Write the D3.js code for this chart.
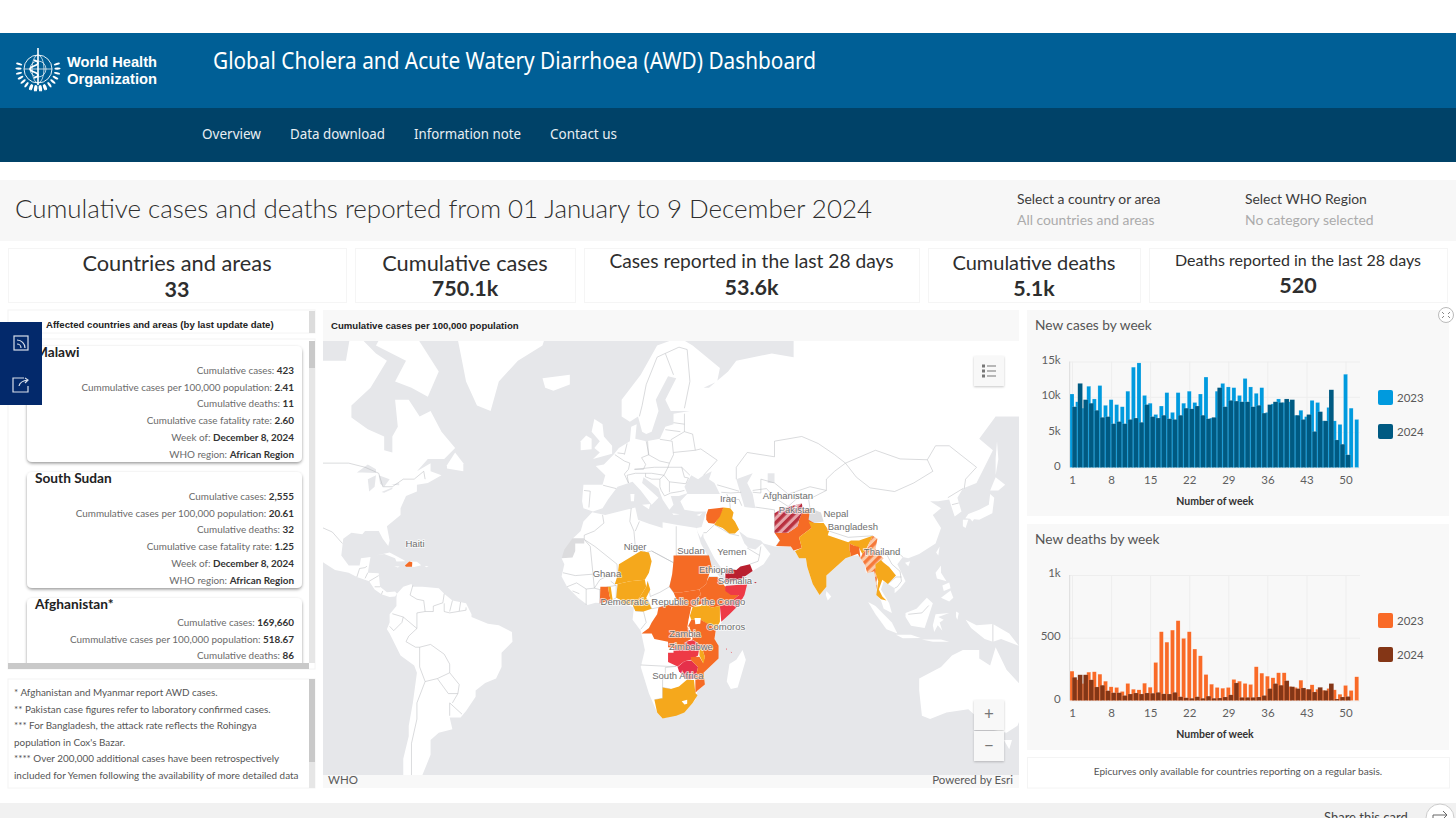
<!DOCTYPE html>
<html>
<head>
<meta charset="utf-8">
<script src="https://cdnjs.cloudflare.com/ajax/libs/d3/7.8.5/d3.min.js"></script>
<style>
  html, body { margin: 0; padding: 0; background: #fff; overflow: hidden; }
  svg { display: block; }
  text { font-family: Lato, "Open Sans", sans-serif; }
  .axis path { display: none; }
  .axis line { stroke: #eeeeee; }
  .axis text { font-size: 11.5px; fill: #5f5f5f; font-family: Lato, sans-serif; }
</style>
</head>
<body>
<svg id="page" width="1456" height="818"></svg>
<script>
// ---- chart data ----
const weeks = d3.range(1, 53);
const weekTicks = [1, 8, 15, 22, 29, 36, 43, 50];
const caseTicks = [0, 5000, 10000, 15000];
const caseTickLabels = ['0', '5k', '10k', '15k'];
const deathTicks = [0, 500, 1000];
const deathTickLabels = ['0', '500', '1k'];

const cases2023 = [10400, 9300, 8400, 11500, 9700, 11600, 8800, 9600, 8900, 8600, 10800, 14200, 14800, 10200, 9100, 7500, 8700, 10600, 7800, 10600, 9100, 10800, 9200, 10400, 12800, 7000, 10800, 11900, 11400, 11300, 10200, 12600, 11400, 10500, 11300, 7800, 9000, 9700, 9200, 9300, 7400, 8100, 7200, 9500, 9200, 6600, 8500, 6600, 6100, 13200, 8400, 6800];
const cases2024 = [8600, 11900, 9600, 9100, 8100, 7100, 7200, 6200, 6500, 6200, 6800, 7000, 6400, 8900, 7200, 7000, 7400, 6900, 6800, 7400, 8400, 8300, 8700, 7400, 6900, 7100, 11300, 8600, 9500, 9400, 9300, 9300, 8600, 8800, 7700, 8900, 9300, 9200, 9700, 9600, 7400, 6800, 7500, 5100, 7900, 6600, 11000, 3900, 3300, 1800];
const deaths2023 = [234, 165, 135, 226, 229, 210, 154, 109, 104, 72, 136, 90, 85, 138, 106, 303, 548, 465, 561, 636, 495, 548, 410, 356, 207, 130, 104, 98, 104, 168, 154, 136, 128, 269, 218, 194, 181, 221, 221, 112, 104, 162, 90, 125, 90, 82, 96, 85, 50, 120, 80, 189];
const deaths2024 = [185, 205, 205, 165, 108, 122, 78, 62, 62, 40, 52, 60, 52, 60, 58, 65, 53, 52, 65, 30, 22, 18, 30, 18, 35, 18, 20, 28, 45, 140, 25, 25, 25, 28, 40, 95, 135, 122, 158, 110, 95, 100, 90, 68, 105, 80, 135, 12, 28, 32];

// ---- dashboard text ----
const navItems = ['Overview', 'Data download', 'Information note', 'Contact us'];
const statLabels = ['Countries and areas', 'Cumulative cases', 'Cases reported in the last 28 days', 'Cumulative deaths', 'Deaths reported in the last 28 days'];
const statValues = ['33', '750.1k', '53.6k', '5.1k', '520'];
const rowLabels = ['Cumulative cases', 'Cummulative cases per 100,000 population', 'Cumulative deaths', 'Cumulative case fatality rate', 'Week of', 'WHO region'];
const cardNames = ['Malawi', 'South Sudan', 'Afghanistan*'];
const cardValues = [
  ['423', '2.41', '11', '2.60', 'December 8, 2024', 'African Region'],
  ['2,555', '20.61', '32', '1.25', 'December 8, 2024', 'African Region'],
  ['169,660', '518.67', '86']
];
const footnotes = ['* Afghanistan and Myanmar report AWD cases.', '** Pakistan case figures refer to laboratory confirmed cases.', '*** For Bangladesh, the attack rate reflects the Rohingya', "population in Cox's Bazar.", '**** Over 200,000 additional cases have been retrospectively', 'included for Yemen following the availability of more detailed data'];

// ---- map data, rough lon/lat outlines ----
const landAreas = [
  [[-125,70],[-110,68],[-96,68],[-94,72],[-85,69],[-81,68],[-87,64],[-94,61],[-94,58.8],[-88,56.5],[-82,55],[-82,52],[-79,51.5],[-79,55],[-77,57],[-78,62],[-73,62],[-69,59],[-65,60],[-61,56],[-56,52.5],[-60,50],[-66,50],[-70,47],[-65,49],[-65,47],[-61,46],[-66,44],[-70,43.5],[-70,41.7],[-74,40.5],[-76,37],[-76,35],[-81,31.5],[-80,27],[-80.5,25.2],[-82.5,27.5],[-84,30],[-89,30],[-90,29],[-94,29.5],[-97,27.5],[-97.7,22],[-95,18.5],[-91,18.5],[-90.5,21],[-87,21.5],[-88,16],[-84,15.8],[-83.5,11],[-81,9],[-78,9.3],[-77.3,8.5],[-78,7.5],[-80,7.3],[-83,8.3],[-85.5,10],[-87.5,13],[-92,14.5],[-95,16],[-100,17],[-105,20],[-105.5,22],[-109,26],[-112,30],[-125,40]],
  [[-73,78],[-55,82],[-30,83],[-20,80],[-20,74],[-24,70],[-33,68],[-40,65],[-43,60],[-48,61],[-52,65],[-54,69],[-58,75],[-68,76]],
  [[-80,73],[-70,71],[-62,66.5],[-66,62.5],[-72,64],[-78,65],[-74,68],[-85,70]],
  [[-117,70],[-105,69],[-105,73],[-117,73]],
  [[-100,74],[-80,74],[-85,77],[-100,77]],
  [[-59,47.7],[-53,47],[-53,49],[-56,51.5],[-59,48.5]],
  [[-85,22],[-80,23],[-75,20.5],[-74.2,20],[-77.5,19.9],[-78,21],[-82,22.5]],
  [[-74.4,18.5],[-72.8,19.9],[-70,19.8],[-68.4,18.6],[-71,18],[-72,18.1]],
  [[-78.3,18.3],[-76.3,18.2],[-77,17.8]],
  [[-67.2,18.4],[-65.7,18.3],[-66.5,17.9]],
  [[-77.3,8.5],[-75,11],[-72,12],[-71.5,11],[-68,11],[-62,10.5],[-60,8.5],[-57,6],[-52,5],[-50,1],[-50,0],[-44,-2.5],[-40,-3],[-35.2,-5.5],[-35,-9],[-39,-13],[-39,-18],[-41,-22],[-45,-23.5],[-48.5,-26],[-48.5,-28],[-52,-32.5],[-54,-34.5],[-58,-34.5],[-57,-38],[-62,-39],[-65,-41],[-65,-45],[-68,-50],[-69,-52],[-75,-52],[-75,-46],[-73,-40],[-73,-37],[-71.5,-30],[-70,-20],[-71,-17.5],[-76,-14],[-80,-6],[-81,-4.5],[-80,-2],[-80,1],[-77.5,4],[-77.5,7]],
  [[-9,37],[-9.5,39],[-9,43.5],[-2,43.5],[-1,46],[-4.5,48.3],[-1.5,48.7],[2,51],[4,52.5],[8,54],[8.5,57],[10.5,57.5],[10,54.5],[14,54],[19,54.5],[21,57],[24,57.5],[24,59.5],[30,60],[23,60],[21,62],[25,65.5],[22,65.8],[17.5,62],[18.5,60],[16,56],[14,55.5],[12.5,56],[11,59],[8,58],[5,59],[5,62],[12,66],[18,70],[26,71],[31,70],[41,67],[40,65],[35,64],[37,64],[44,66.5],[47,68],[60,69],[68,68.5],[68,73],[75,72.5],[80,73],[100,76],[112,74],[130,72],[150,72],[165,70],[165,60],[155,59],[142,59],[136,54.5],[141,52],[135,44],[130,42.5],[128,40],[129.5,36],[127,34.5],[126,37],[125,39.5],[121,39],[118,39],[122,37],[119,35],[122,31],[120,26],[114,22.5],[110,21],[108,21.5],[106,19],[109,13],[107,10.5],[105,8.7],[105,10.5],[101,13],[100,10],[103,5],[104,1.5],[101,3],[100,6],[98.5,8],[98.5,14],[97,17],[94.5,16],[94,19],[92,22],[89,22],[87,21],[80,15],[80,11],[77.5,8],[75,12],[73,18],[72.5,21],[70,21],[68.5,23.5],[67,25],[61,25],[57,26],[56,27],[51,28],[48,30],[50,26],[51.5,24.5],[54,24],[56.5,26],[59.5,22.5],[57,19],[52,16],[45,12.8],[43.3,13],[42,17],[39,21],[35,28],[34.9,29.5],[34,27.8],[32.7,29.9],[32.5,31],[34.3,31.3],[36,36],[32,36],[28,36.5],[26.5,39],[29,41],[41,41],[39,44],[37,45],[38,47],[35,46],[33,45],[30.5,46],[28,43],[29,41.2],[26,40.5],[23,40.5],[24,38],[22.5,36.5],[20,39.5],[18.5,42.5],[13,45.5],[12.5,44],[18.5,40],[16,38],[12,42],[9,44.3],[3.5,43],[0,39.5],[-2,37],[-5.5,36]],
  [[-5.8,35.8],[-1,35],[10,37.2],[11,33.5],[15,32.3],[20,31],[20,32.8],[25,32],[32.5,31],[32.7,29.9],[34,26],[37,21],[38,18],[43,12],[43.5,11],[51,12],[49,7],[42,-1.5],[39.5,-5],[39,-8],[40.5,-15],[35,-20],[35.5,-24],[32.8,-26],[32,-29],[28,-33],[20,-34.8],[18,-33],[15,-27],[12,-18],[13.5,-12],[12,-5],[9,-1],[9.5,3.5],[7,4.5],[4.5,6.2],[-2,5],[-4.5,5.2],[-7.5,4.4],[-11,7],[-15,11],[-17,14.7],[-16,19],[-17,21],[-13,27.5],[-10,30],[-9,33]],
  [[49.3,-12],[50.5,-15.5],[47.5,-25],[45,-25.5],[43.5,-23],[44.5,-17],[47,-15.5]],
  [[-5.5,50],[1.5,51.2],[1.5,53],[-1.5,55],[-2,57.5],[-5,58.5],[-6,56],[-3,54],[-5,52.5],[-3,51.5]],
  [[-10,52],[-6,52.2],[-6,54.5],[-8,55.2],[-10,54]],
  [[-24,65.5],[-14,66],[-14,64.5],[-20,63.5],[-23,64]],
  [[52,71],[56,71],[68,76.5],[60,76]],
  [[12.5,38],[15.5,38.2],[15,36.7]],
  [[8.2,41],[9.7,41],[9.5,39],[8.4,39]],
  [[23.5,35.5],[26.3,35.2],[24,35]],
  [[32.4,35],[34.5,35.6],[33.5,34.7]],
  [[130.9,34],[136,33.5],[140.8,35.5],[141.5,40],[140,41],[139.5,38],[136,36.5],[132,35.3]],
  [[140,42],[142,45.5],[145.5,43.5],[143,42]],
  [[130,33.5],[132,33.5],[131,31],[130,31.5]],
  [[132.5,34],[134.5,34.2],[133.5,33]],
  [[142,46],[143,50],[142.5,54],[142,50]],
  [[120.2,23],[121.5,25],[121,22]],
  [[108.8,19.5],[110.7,20],[110,18.3]],
  [[120,16],[122,18.5],[122,16],[124,13],[120.5,14]],
  [[122,7],[125.5,9.7],[126.5,7],[125,5.7]],
  [[122.5,11.5],[125,12.5],[125.5,10.5],[123,9.5]],
  [[109,1.5],[113,3],[116.8,7],[119,5],[117.7,1],[116,-4],[111,-3.2],[109,0]],
  [[95.3,5.5],[98,4],[104,-2],[106,-6],[102,-4.5],[98,1]],
  [[105.5,-6.5],[111,-6.5],[114.5,-7.7],[108,-7.8]],
  [[115,-8.2],[122,-8.2],[125,-9],[119,-9]],
  [[119.5,-5.5],[119,-3],[120,1],[125,1.5],[121,0],[123,-1],[121.5,-2],[122.5,-5],[120.8,-3]],
  [[127.5,2],[128.5,1.5],[128,-1],[127.5,0]],
  [[131,-1],[135,-3],[141,-2.6],[147,-6],[150.5,-10.5],[144,-8],[141,-9],[138,-8],[133,-4]],
  [[80,9.5],[81.8,7.5],[80.5,6],[79.8,8]],
  [[114,-22],[122,-18],[126,-14],[130,-12],[136,-12],[136,-15],[140,-17.5],[142,-11],[146,-19],[153,-26],[153,-31],[150,-37],[146,-39],[140,-38],[136,-35],[132,-32],[124,-33],[118,-35],[115,-34],[114,-26]],
  [[145,-41],[148,-41],[147,-43.5]]
];
const waterAreas = [
  [[-92,46.7],[-88,48.7],[-85,47.5],[-85,46.6],[-90,46.7]],
  [[-87.5,41.7],[-88,45],[-85,46],[-85.5,43]],
  [[-84,46],[-80,45],[-82,43],[-83.5,43.8]],
  [[-83,41.6],[-79,42.8],[-79,42.4],[-82,41.4]],
  [[-79.5,43.5],[-76.5,44],[-76.5,43.4]],
  [[47,45],[53,46.5],[51,44],[53,41],[54,37],[50,37.3],[49,40]],
  [[58.5,46.5],[61,46.5],[61,44],[58.5,44]]
];
const borders = [
  [[-125,49],[-95,49],[-89,48],[-84,46.5],[-82.5,43],[-79,43],[-75,45],[-71,45],[-67.5,47],[-67,45]],
  [[-117,32.5],[-106.5,31.8],[-101,29.7],[-97.3,26]],
  [[-92,14.5],[-91,17.5],[-89,17.8],[-88.3,18.3]],
  [[-89,14],[-88,16]],[[-87.5,13],[-84,15]],[[-85.5,11],[-83.5,11]],[[-83,8.3],[-82.5,9.5]],
  [[-71.5,11.5],[-72.5,8],[-70,6.5],[-67.5,6],[-67,2],[-64,2],[-64,4],[-60.5,5.2],[-60,8.5]],
  [[-57,6],[-58,2]],[[-54,5.5],[-54.5,2.2]],[[-52,3.5],[-52,2.5],[-58,1.5],[-60,2],[-60,5]],
  [[-67,2],[-70,1.5],[-70,-4.2],[-73,-7],[-74,-9],[-70.5,-11],[-69,-11],[-65,-10],[-60,-13.5],[-58,-17],[-58,-20],[-62.5,-22],[-67,-23],[-69,-18],[-69,-11]],
  [[-79,1.2],[-75,0],[-75.5,-2],[-78.5,-5],[-80,-3.4]],[[-75,0],[-70,-4.2]],
  [[-58,-20],[-54.5,-24],[-55,-27],[-58.5,-27],[-62.5,-22]],
  [[-67,-23],[-70,-30],[-70,-35],[-72,-42],[-72,-50],[-69,-52]],
  [[-58,-34],[-58,-30],[-53.5,-33.5]],[[-55,-27],[-57,-30]],
  [[-2,35],[-1.5,32.5],[-5,30],[-8.7,28.7],[-8.7,27.3],[-4.8,25],[3.3,19],[3.5,15],[0,15],[-3,13.5],[-5,10.5],[-8,10.2],[-11.5,12.4],[-15,11]],
  [[-8.7,27.3],[-6.5,25],[-5.5,15.5],[-12,15],[-16.5,16]],[[-5.5,15.5],[-5,10.5]],
  [[-13,9.5],[-10.5,8.5]],[[-8,10.2],[-8,4.5]],[[-5,10.5],[-3,10],[-3,5]],[[-3,10],[0,11],[3,11.5],[1,13]],
  [[8.5,37],[8,33],[9.5,30],[10,25],[12,23.5]],[[11.5,33],[10,30]],[[10,25],[14,23],[16,23.5],[24,19.5],[25,22],[25,31.5]],[[25,22],[37,22]],
  [[16,23.5],[24,19.5],[24,15.5],[22.5,11],[19,9],[15.5,7.5],[14.5,13]],
  [[22.5,11],[27,5],[22,4.5],[18.5,3.5],[16,3],[14.5,6.5]],
  [[10,2.2],[13,2],[14,-2],[12,-4.5]],
  [[12,-17.3],[22,-17.8],[25,-17.8],[21,-18.2],[21,-22],[20,-22],[20,-28.5],[17,-29]],[[20,-25],[23,-25.5]],
  [[36.5,14.5],[40,14.5],[43,12.5]],[[1.5,6.2],[3,7]],[[3,11.5],[3,7]],
  [[-1.8,43.4],[3,42.5]],[[-7,37.2],[-6.5,41.8],[-8.8,42]],
  [[2.5,51],[6,49.5],[8,49],[7.5,47.5],[6,46.3],[7.5,44]],
  [[14,54],[15,51],[12.3,50.3],[13.8,48.7],[13,47.5],[9.7,47.5]],[[6,51],[7,53.5]],[[3.5,51.4],[6,51.2]],
  [[14.5,54],[14.8,51],[19,49.5],[22.5,49],[24,51],[23.5,54],[19,54.4]],
  [[24,57.8],[28,57.5]],[[21,56.4],[26.5,56]],[[23,54.3],[28,56]],[[28,59.5],[28,56],[31,55.5],[32,52],[24,51.5]],
  [[22.5,49],[22,48],[27,48],[30,46]],[[35,46],[40,49.7],[34,52.3],[32,52]],
  [[22,48],[20.5,46],[22.5,44.3],[28.5,43.8],[29.5,45.3],[28,45.5],[27,48]],
  [[9.7,47.5],[17,48],[19,48],[22,48]],[[13.8,46.5],[16,46.5],[20.5,46]],
  [[7.5,44],[7,46],[10,46.5],[13.8,46.5],[13.7,45.6],[16,45],[19,45],[20.5,46]],
  [[19,45],[19,43],[19.5,42],[20.7,40.5],[23,41.3],[26.3,41.7],[28,42]],[[22.5,44.3],[22.5,41.5]],
  [[11.5,59],[12.5,61],[14,64.5],[18,68.5],[21,69],[26,69.8],[29,69.5],[30,65],[28,60.5]],[[24,66],[21,69]],
  [[40,43.5],[48,41.8]],[[41.5,41.5],[45,41.3],[48.8,41.5]],
  [[43.5,41],[44.5,39.5],[44.8,37]],[[44.5,39.5],[48,39.5],[49,37.7]],[[54,37.3],[61,36.5],[61,30],[63,27],[61.6,25.2]],
  [[53,42],[58,42.5],[62,39.5],[66,37.5]],
  [[53,41.5],[56,41.3],[56,45],[61,44],[66,41],[70,42],[74,43],[80,42],[80,45],[83,47],[87,49]],
  [[47,45],[47,48],[51,51.5],[61,50.5],[61,54],[71,55],[77,53.5],[83,51],[87,49]],
  [[66,37.5],[71,41],[74,40]],
  [[87,49],[98,52],[107,50],[117,49.8],[119,47],[112,44],[105,41.7],[96,42.7],[91,45.5],[87,49]],
  [[117,49.8],[120,53],[125,53],[135,48],[131,45],[130.5,42.5]],
  [[124.5,40],[130,42.5]],[[126,38],[128.5,38.5]],
  [[74,37],[73.5,39.5],[80,42]],[[81,30],[88,28],[97,28.5]],
  [[98,24],[100,21.8],[102,22.5],[106,23],[108,21.5]],
  [[102,22.5],[104,19],[107,16.5],[107.5,13],[106,11],[105,10.5]],[[102.5,12],[105.5,14.5],[107.5,14.5]],
  [[36,29.5],[39,32],[44.5,29.2],[48,28.5]],[[51,24.5],[55.5,22],[55,20],[52,19]],[[56,25],[55.5,22]],[[35,29.5],[36,29.5]],
  [[141,-2.6],[141,-9]],[[110,1],[115,1.5],[117.5,4.2]]
];

const colorLow = '#f5a81c', colorMid = '#f56b25', colorHigh = '#ee3a46', colorTop = '#b9202f', colorNoData = '#dcdcde';
const countries = [
  { name: 'Iraq', fill: colorLow, coords: [[39,32],[42.3,37.2],[44.8,37],[46,35.7],[45.5,34],[46.5,33],[48,30.5],[46.5,29.2],[44.5,29.2],[42,31]] },
  { name: 'Syria', fill: colorMid, coords: [[36,35],[36.7,36.7],[42.3,37.2],[41,34.5],[39,32.3],[36.8,32.5],[36,33.5]] },
  { name: 'Yemen', fill: colorTop, coords: [[43,12.8],[43,16.5],[44,17.4],[47,17],[48.5,18.2],[52,19],[53,16.6],[49,14],[45,12.8]] },
  { name: 'Socotra', fill: colorTop, coords: [[53.5,12.7],[54.5,12.6],[54,12.3]] },
  { name: 'Pakistan', fill: colorMid, coords: [[61,29.5],[66,29.5],[69.5,31.5],[70,33.5],[71.5,36.3],[74,37],[77.5,35.5],[75.5,32.5],[74.5,31],[70,28],[71,24.5],[68,23.7],[67,25],[61.6,25.2],[63,27]] },
  { name: 'Afghanistan', fill: 'url(#hatchDark)', coords: [[61,30],[61,35.5],[64,37],[66,37.3],[71,38.4],[71.5,36.3],[70,33.5],[69.5,31.5],[66,29.5],[61,29.5]] },
  { name: 'Kashmir', fill: colorNoData, coords: [[74,37],[78,35.7],[79,33],[75.5,32.5],[73.5,33.5]] },
  { name: 'India', fill: colorLow, coords: [[73.5,33],[75.5,32.5],[79,32.5],[81,30],[80.5,28.7],[88,26.4],[89,27],[92,27],[97,28.5],[94.5,24],[93.2,22.5],[92,24.5],[90,25.3],[88.5,26],[88.5,24],[89,21.7],[87,21],[80,15],[80,11],[77.5,8],[75,12],[73,18],[72.5,21],[70,21],[68.5,23.5],[71,24.5],[70,28],[74.5,31]] },
  { name: 'Bangladesh', fill: colorMid, coords: [[88.5,26],[90,25.3],[92,24.8],[92.5,21],[91.5,22.6],[89,21.7],[88.5,24]] },
  { name: 'Myanmar', fill: 'url(#hatchOrange)', coords: [[92.5,21],[93.2,22.5],[94.5,24],[97,28.5],[98.7,27.5],[98,24],[100,21.8],[101,21],[98,18],[98.5,14],[98.5,10],[97.5,16.5],[95,15.8],[94,19]] },
  { name: 'Thailand', fill: colorLow, coords: [[98,19],[100,20.4],[101,19.5],[103,18],[105.5,15],[102.5,12],[100.5,13.5],[99.2,10],[100.5,7.5],[102,6],[100,6.5],[98.3,8],[99,13],[98,16]] },
  { name: 'Niger', fill: colorLow, coords: [[2.5,12],[3.5,15],[4,19],[12,23.5],[15,23],[16,20],[15,16],[13.5,13.5],[8,13],[3.5,12]] },
  { name: 'Nigeria', fill: colorLow, coords: [[3,7],[3.5,12],[8,13],[13.5,13.5],[14,11],[11.5,7],[9,4.5],[6,4.5],[4.5,6.3]] },
  { name: 'Cameroon', fill: colorLow, coords: [[9,4.5],[11.5,7],[14,11],[14.5,13],[15.5,10],[14,7],[16,3],[13,2],[10,2.2]] },
  { name: 'Ghana', fill: colorMid, coords: [[-3,5],[-2.8,11],[0,11],[0.5,8],[1,6]] },
  { name: 'Togo', fill: colorLow, coords: [[0,11],[1,11],[1.7,6.2],[1,6],[0.5,8]] },
  { name: 'Democratic Republic of the Congo', fill: colorMid, coords: [[12.3,-6],[15,-4],[16,-2],[18,1],[18.5,3.5],[22,4.5],[27,5],[30.5,3.7],[29.5,-1],[29,-4],[30.5,-8],[28.5,-9],[28.5,-12],[29.5,-13],[27,-11.8],[22,-11],[22,-9],[17,-8],[16,-6]] },
  { name: 'Sudan', fill: colorMid, coords: [[24,22],[37,22],[38,18],[36.5,14],[36,12],[33.5,10],[27,9],[24,9],[22.5,11],[23.5,15.5],[24,20]] },
  { name: 'South Sudan', fill: colorMid, coords: [[24,9],[27,9],[33.5,10],[34,8],[33,7.5],[35,5],[31,3.7],[28,4.5],[25,6.5]] },
  { name: 'Ethiopia', fill: colorMid, coords: [[36,12.5],[37,14.5],[40,14.5],[43,11],[48,8],[44,4.8],[41,4],[38,3.5],[35,5],[33,7.5],[34,8],[33.5,10],[36,12]] },
  { name: 'Somalia', fill: colorHigh, coords: [[43,11.3],[51,12],[50,8],[48,4.5],[44.5,1],[41.5,-1.7],[41,3.9],[44,4.8],[48,8],[45,8],[43,9.5]] },
  { name: 'Kenya', fill: colorLow, coords: [[35,5],[38,3.5],[41,4],[41,-1.7],[39.5,-4.6],[34,-1],[34,4]] },
  { name: 'Uganda', fill: colorLow, coords: [[30.5,-1],[34,-1],[35,2],[34,4],[31,3.7],[30,0.5]] },
  { name: 'Tanzania', fill: colorMid, coords: [[30.5,-1],[34,-1],[37.5,-3],[39.5,-4.7],[39,-8],[40.5,-10.5],[37,-11.7],[34.5,-11.5],[33,-9.5],[30.5,-8],[29,-4]] },
  { name: 'Zambia', fill: colorHigh, coords: [[22,-13],[24,-13],[24,-11],[27.5,-12],[28.5,-9],[31,-8.5],[33,-9.5],[33.5,-11],[33,-14],[30.5,-15.5],[28,-16],[25.5,-17.8],[22,-16.3]] },
  { name: 'Zimbabwe', fill: '#e5304a', coords: [[25.5,-18],[28,-16],[30.5,-15.7],[33,-18],[32,-22],[29,-22.3],[26,-19.5]] },
  { name: 'Mozambique', fill: colorMid, coords: [[34.5,-11.5],[40.5,-10.5],[40.5,-15],[35,-20],[35.5,-24],[32.8,-26],[32,-26.8],[32,-22],[33,-18],[30.5,-15.7],[30.3,-14.5],[33.5,-14.4],[34.8,-16.5],[35.5,-14.5]] },
  { name: 'Malawi', fill: colorLow, coords: [[33,-9.5],[34.5,-11.5],[35.5,-14.5],[35,-16.8],[34.8,-16.5],[33.5,-14],[33.5,-11]] },
  { name: 'South Africa', fill: colorLow, coords: [[17,-29],[20,-28.5],[20,-25],[23,-25.5],[26,-24.7],[29,-22.3],[31.5,-22.5],[32,-26.8],[32.8,-27.5],[31,-30],[28,-33],[25,-34],[20,-34.8],[18,-33]] },
  { name: 'Lesotho', fill: '#ffffff', coords: [[27,-29.5],[29,-29],[29,-30.3],[28,-30.5]] },
  { name: 'Lake Victoria', fill: '#ffffff', coords: [[31.7,-0.4],[34,-0.4],[33.8,-2.5],[32,-2.7]] },
  { name: 'Lake Tanganyika', fill: '#ffffff', coords: [[29.2,-3.5],[29.8,-3.5],[31,-8],[30.4,-8]] },
  { name: 'Western Sahara', fill: colorNoData, coords: [[-13,27.7],[-8.7,27.7],[-8.7,26],[-12,26],[-12,23.5],[-13,21.3],[-17,21],[-16,24]] },
  { name: 'Haiti', fill: colorMid, coords: [[-74.4,18.5],[-72.8,19.9],[-71.7,19.7],[-71.8,18.1],[-74,18.1]] },
  { name: 'Comoros', fill: colorHigh, coords: [[43.2,-11.4],[43.6,-11.6],[43.4,-12]] },
  { name: 'Mayotte', fill: colorHigh, coords: [[45,-12.6],[45.4,-12.8],[45.1,-13.1]] }
];
const mapLabels = [
  ['Haiti', -70.7, 26.1], ['Iraq', 44, 39.9], ['Afghanistan', 65.9, 40.5], ['Pakistan', 69.2, 36.7], ['Nepal', 83.5, 35.3],
  ['Bangladesh', 89.7, 31.6], ['Thailand', 100.4, 23.2], ['Niger', 9.9, 25.1], ['Sudan', 30.4, 23.8], ['Yemen', 45.4, 23.2],
  ['Ghana', -0.4, 15.9], ['Ethiopia', 39.6, 17.3], ['Somalia', 46.5, 13.1], ['Democratic Republic of the Congo', 23.8, 5.8],
  ['Comoros', 43.2, -3.3], ['Zambia', 28.2, -6.2], ['Zimbabwe', 30.4, -10.9], ['South Africa', 25.6, -21.1]
];

const svg = d3.select('#page');

function rect(parent, x, y, w, h, fill, extra) {
  const r = parent.append('rect').attr('x', x).attr('y', y).attr('width', w).attr('height', h).attr('fill', fill);
  if (extra) Object.keys(extra).forEach(k => r.attr(k, extra[k]));
  return r;
}
function label(parent, x, y, str, size, fill, extra) {
  const t = parent.append('text').attr('x', x).attr('y', y).attr('font-size', size).attr('fill', fill).text(str);
  if (extra) Object.keys(extra).forEach(k => t.attr(k, extra[k]));
  return t;
}

// defs
const defs = svg.append('defs');
const shadow = defs.append('filter').attr('id', 'cardShadow').attr('x', '-5%').attr('y', '-5%').attr('width', '110%').attr('height', '115%');
shadow.append('feDropShadow').attr('dx', 0).attr('dy', 1.5).attr('stdDeviation', 1.6).attr('flood-color', '#000').attr('flood-opacity', 0.4);
const softShadow = defs.append('filter').attr('id', 'softShadow').attr('x', '-20%').attr('y', '-20%').attr('width', '140%').attr('height', '140%');
softShadow.append('feDropShadow').attr('dx', 0).attr('dy', 1).attr('stdDeviation', 1.2).attr('flood-color', '#000').attr('flood-opacity', 0.22);
function hatch(id, back, stripe) {
  const p = defs.append('pattern').attr('id', id).attr('patternUnits', 'userSpaceOnUse').attr('width', 6.5).attr('height', 6.5).attr('patternTransform', 'rotate(-45)');
  p.append('rect').attr('width', 6.5).attr('height', 6.5).attr('fill', back);
  p.append('rect').attr('width', 6.5).attr('height', 3.4).attr('fill', stripe);
}
hatch('hatchDark', '#e7a6ac', '#b9303f');
hatch('hatchOrange', '#fbcaa9', '#f6793a');
defs.append('clipPath').attr('id', 'mapClip').append('rect').attr('x', 323).attr('y', 341).attr('width', 696).attr('height', 434);
defs.append('clipPath').attr('id', 'listClip').append('rect').attr('x', 8).attr('y', 339).attr('width', 300).attr('height', 324);

// header
rect(svg, 0, 33, 1456, 75, '#005f96');
rect(svg, 0, 108, 1456, 54, '#004268');
label(svg, 213, 69, 'Global Cholera and Acute Watery Diarrhoea (AWD) Dashboard', 23, '#fff', { textLength: 603, lengthAdjust: 'spacingAndGlyphs', style: 'font-family:"Noto Sans"' });
const navX = [202, 290, 414, 550];
const navW = [59, 95, 107, 67];
navItems.forEach((d, i) => label(svg, navX[i], 139, d, 14.2, '#e8eef3', { textLength: navW[i], lengthAdjust: 'spacingAndGlyphs', style: 'font-family:"Noto Sans"' }));

// WHO logo
const logo = svg.append('g').attr('transform', 'translate(38,69)').attr('fill', 'none').attr('stroke', '#fff');
logo.append('circle').attr('r', 14).attr('stroke-width', 0.9);
logo.append('circle').attr('r', 8).attr('stroke-width', 0.7);
logo.append('ellipse').attr('rx', 6).attr('ry', 14).attr('stroke-width', 0.7);
logo.append('line').attr('x1', -14).attr('x2', 14).attr('stroke-width', 0.7);
logo.append('line').attr('y1', -21).attr('y2', 16).attr('stroke-width', 1.6);
logo.append('path').attr('d', 'M-4 -9 q 8 3 0 6 q -8 3 0 6 q 8 3 0 6').attr('stroke-width', 1.6);
d3.range(-1, 2, 2).forEach(s => {
  d3.range(0.7, 3, 0.24).forEach(a => {
    logo.append('ellipse').attr('rx', 1.1).attr('ry', 3.2)
      .attr('transform', `rotate(${s * a * 180 / Math.PI + s * 35}) translate(0,-19.5)`)
      .attr('fill', '#fff').attr('stroke', 'none');
  });
});
label(svg, 67, 67, 'World Health', 14.8, '#fff', { 'font-weight': 700, textLength: 90, lengthAdjust: 'spacingAndGlyphs', style: 'font-family:"Liberation Sans Narrow","Liberation Sans"' });
label(svg, 67, 84, 'Organization', 14.8, '#fff', { 'font-weight': 700, textLength: 90, lengthAdjust: 'spacingAndGlyphs', style: 'font-family:"Liberation Sans Narrow","Liberation Sans"' });

// title band
rect(svg, 0, 180, 1456, 61, '#f7f7f7');
label(svg, 15, 218, 'Cumulative cases and deaths reported from 01 January to 9 December 2024', 26, '#2e2e2e', { 'font-weight': 300, textLength: 857, lengthAdjust: 'spacingAndGlyphs' });
label(svg, 1017, 204, 'Select a country or area', 13.9, '#3c3c3c');
label(svg, 1017, 225, 'All countries and areas', 13.9, '#ababab');
label(svg, 1245, 204, 'Select WHO Region', 13.9, '#3c3c3c');
label(svg, 1245, 225, 'No category selected', 13.9, '#ababab');

// stat cards
const statBox = [[8, 338], [355, 220], [584, 335], [928, 212], [1149, 298]];
const statSize = [21.8, 21.8, 19.2, 20, 16];
const statLabelY = [271, 271, 268, 270, 266];
const statValueY = [297, 296, 295, 296, 293];
statLabels.forEach((d, i) => {
  const [x, w] = statBox[i];
  rect(svg, x + 0.5, 248.5, w, 54, '#fff', { stroke: '#f5f5f5' });
  label(svg, x + w / 2, statLabelY[i], d, statSize[i], '#2e2e2e', { 'text-anchor': 'middle' });
  label(svg, x + w / 2, statValueY[i], statValues[i], 21.5, '#2e2e2e', { 'text-anchor': 'middle', 'font-weight': 700 });
});

// left list panel
rect(svg, 8, 310, 307, 23, '#fff', { stroke: '#f4f4f4' });
label(svg, 46, 328, 'Affected countries and areas (by last update date)', 9.6, '#222', { 'font-weight': 700, style: 'font-family:"Liberation Sans"' });
rect(svg, 309, 311, 6, 22, '#dcdcdc');
rect(svg, 8, 339, 307, 330, '#fff', { stroke: '#f4f4f4' });
rect(svg, 309, 341, 6, 322, '#e6e6e6');
rect(svg, 309, 341, 6, 27, '#c9c9c9');
rect(svg, 8, 663, 301, 6, '#c9c9c9');

const list = svg.append('g').attr('clip-path', 'url(#listClip)');
const cardTop = [346, 472, 598];
cardNames.forEach((name, i) => {
  rect(list, 27, cardTop[i], 275, 116, '#fff', { rx: 5, filter: 'url(#cardShadow)' });
  label(list, 35, cardTop[i] + 11, name, 13.7, '#222', { 'font-weight': 700 });
  cardValues[i].forEach((v, j) => {
    const t = label(list, 294, cardTop[i] + 28 + j * 16.7, null, 9.9, '#6a6a6a', { 'text-anchor': 'end' });
    t.append('tspan').text(rowLabels[j] + ': ');
    t.append('tspan').attr('font-weight', 700).attr('fill', '#333').text(v);
  });
});

// footnote panel
rect(svg, 8, 679, 307, 109, '#fff', { stroke: '#f4f4f4' });
rect(svg, 309, 679, 6, 109, '#e6e6e6');
rect(svg, 309, 679, 6, 83, '#c9c9c9');
footnotes.forEach((d, i) => label(svg, 14, 696 + i * 16.6, d, 9.9, '#555'));

// side toolbar
rect(svg, 0, 322, 42, 83, '#03296b');
const tb = svg.append('g').attr('fill', 'none').attr('stroke', '#d7dee9').attr('stroke-width', 1.2);
tb.append('rect').attr('x', 14).attr('y', 336).attr('width', 14).attr('height', 14);
tb.append('path').attr('d', 'M17 340 a 8 8 0 0 1 8 8 M17 344 a 4 4 0 0 1 4 4');
tb.append('path').attr('d', 'M24 378 h-11 v14 h15 v-6 M19 386 q 1 -5 9 -6 m -3 -2 l 3 2 -3 3');

// map panel
rect(svg, 323, 310, 696, 478, '#f8f8f8');
label(svg, 331, 329, 'Cumulative cases per 100,000 population', 9.6, '#222', { 'font-weight': 700, style: 'font-family:"Liberation Sans"' });
const projection = d3.geoMercator().scale(156.4).translate([608, 617]);
const ring = d3.line().x(d => projection(d)[0]).y(d => projection(d)[1]).curve(d3.curveLinearClosed);
const openLine = d3.line().x(d => projection(d)[0]).y(d => projection(d)[1]);

const map = svg.append('g').attr('clip-path', 'url(#mapClip)');
rect(map, 323, 341, 696, 434, '#e6e7ea');
map.selectAll('path.land').data(landAreas).join('path').attr('class', 'land').attr('d', ring).attr('fill', '#fff');
map.selectAll('path.water').data(waterAreas).join('path').attr('class', 'water').attr('d', ring).attr('fill', '#e6e7ea');
map.selectAll('path.border').data(borders).join('path').attr('class', 'border').attr('d', openLine).attr('fill', 'none').attr('stroke', '#b4b7bb').attr('stroke-width', 0.5);
map.selectAll('path.country').data(countries).join('path').attr('class', 'country').attr('d', d => ring(d.coords)).attr('fill', d => d.fill);
map.selectAll('text.place').data(mapLabels).join('text').attr('class', 'place')
  .attr('x', d => projection([d[1], d[2]])[0]).attr('y', d => projection([d[1], d[2]])[1] + 3.5)
  .attr('text-anchor', 'middle').attr('font-size', 9.5).attr('fill', '#6e6e6e')
  .attr('stroke', '#fff').attr('stroke-opacity', 0.75).attr('stroke-width', 1.6).attr('paint-order', 'stroke')
  .style('font-family', '"Liberation Sans"').text(d => d[0]);

label(svg, 328, 784, 'WHO', 11.5, '#5a5a5a');
label(svg, 1013, 784, 'Powered by Esri', 11.5, '#5a5a5a', { 'text-anchor': 'end' });

// map widgets
rect(svg, 974, 356, 30, 30, '#f8f8f8', { filter: 'url(#softShadow)' });
const legendIcon = svg.append('g').attr('stroke', '#777');
[366, 371, 376].forEach(y => {
  legendIcon.append('line').attr('x1', 987).attr('x2', 996).attr('y1', y).attr('y2', y);
  legendIcon.append('rect').attr('x', 982).attr('y', y - 1.5).attr('width', 3).attr('height', 3).attr('fill', '#777').attr('stroke', 'none');
});
rect(svg, 974, 700, 30, 30, '#f8f8f8', { filter: 'url(#softShadow)' });
rect(svg, 974, 731, 30, 30, '#f8f8f8', { filter: 'url(#softShadow)' });
label(svg, 989, 720, '+', 17, '#777', { 'text-anchor': 'middle' });
label(svg, 989, 751, '−', 17, '#777', { 'text-anchor': 'middle' });

// bar charts, same setup for cases and deaths
function weekChart(opts) {
  const g = svg.append('g');
  rect(g, 1027, opts.top, 422, opts.height, '#f8f8f8');
  label(g, 1035, opts.top + 20, opts.title, 13.7, '#555');

  const x = d3.scaleBand().domain(weeks).range([1069.7, 1360]);
  const y = d3.scaleLinear().domain(opts.domain).range([opts.y0, opts.y1]);

  const xAxis = d3.axisBottom(x).tickValues(weekTicks).tickSize(opts.y1 - opts.y0).tickPadding(6);
  g.append('g').attr('class', 'axis').attr('transform', `translate(0,${opts.y0})`).call(xAxis)
    .selectAll('text').attr('dy', '0.9em');
  const yAxis = d3.axisLeft(y).tickValues(opts.ticks).tickFormat((d, i) => opts.tickLabels[i]).tickSize(-290.3).tickPadding(9);
  g.append('g').attr('class', 'axis').attr('transform', 'translate(1069.7,0)').call(yAxis)
    .selectAll('text').attr('dy', '0.16em');
  g.append('line').attr('x1', 1069.7).attr('x2', 1069.7).attr('y1', opts.y1).attr('y2', opts.y0).attr('stroke', '#dcdcdc');

  g.selectAll('rect.a').data(opts.values2023).join('rect').attr('class', 'a')
    .attr('x', (d, i) => x(weeks[i]) + 0.3).attr('width', 4)
    .attr('y', d => y(d)).attr('height', d => y(0) - y(d))
    .attr('fill', opts.colors[0]).attr('stroke', '#fff').attr('stroke-opacity', 0.45).attr('stroke-width', 0.4);
  g.selectAll('rect.b').data(opts.values2024).join('rect').attr('class', 'b')
    .attr('x', (d, i) => x(weeks[i]) + 2.5).attr('width', 4.7)
    .attr('y', d => y(d)).attr('height', d => y(0) - y(d))
    .attr('fill', opts.colors[1]).attr('stroke', '#fff').attr('stroke-opacity', 0.25).attr('stroke-width', 0.4);

  label(g, 1215, opts.y0 + 37, 'Number of week', 10.5, '#333', { 'text-anchor': 'middle', 'font-weight': 700 });

  ['2023', '2024'].forEach((yr, i) => {
    const ly = opts.legendY + i * 34;
    rect(g, 1378, ly, 15, 15, opts.colors[i], { rx: 2 });
    label(g, 1397, ly + 11.5, yr, 11.5, '#5a5a5a');
  });
}

weekChart({ top: 310, height: 206, title: 'New cases by week', domain: [0, 15000], y0: 467.5, y1: 361.5, ticks: caseTicks, tickLabels: caseTickLabels, values2023: cases2023, values2024: cases2024, colors: ['#009ade', '#005a82'], legendY: 390 });
weekChart({ top: 524, height: 226, title: 'New deaths by week', domain: [0, 1000], y0: 700.5, y1: 575, ticks: deathTicks, tickLabels: deathTickLabels, values2023: deaths2023, values2024: deaths2024, colors: ['#f96a27', '#843616'], legendY: 613 });

// footnote under the charts
rect(svg, 1027.5, 757.5, 422, 30.5, '#fff', { stroke: '#f4f4f4' });
label(svg, 1238, 775, 'Epicurves only available for countries reporting on a regular basis.', 10.1, '#555', { 'text-anchor': 'middle' });

// fullscreen button
svg.append('circle').attr('cx', 1446).attr('cy', 315).attr('r', 7.5).attr('fill', '#fff').attr('stroke', '#bbb');
svg.append('path').attr('d', 'M1442 312 l2 2 M1450 312 l-2 2 M1442 318 l2 -2 M1450 318 l-2 -2').attr('stroke', '#888').attr('fill', 'none');

// bottom band
rect(svg, 0, 803, 1456, 15, '#f1f1f1');
label(svg, 1324, 822, 'Share this card', 13, '#444');
svg.append('circle').attr('cx', 1440).attr('cy', 818).attr('r', 14).attr('fill', '#fff').attr('stroke', '#ccc');
svg.append('path').attr('d', 'M1447 815 h-14 v6 M1443 811 l4 4 -4 4').attr('stroke', '#666').attr('fill', 'none');
</script>
</body>
</html>
